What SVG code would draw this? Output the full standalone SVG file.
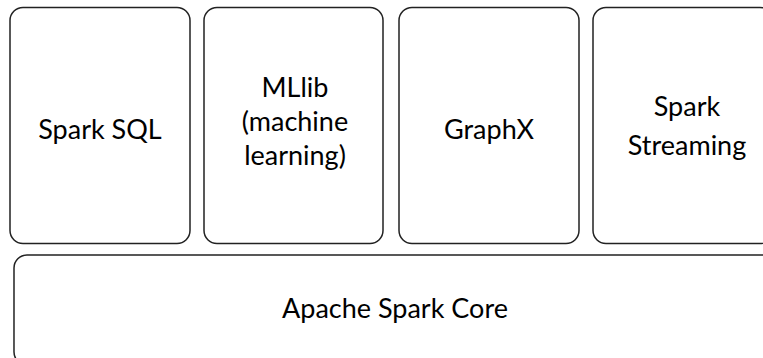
<svg xmlns="http://www.w3.org/2000/svg" width="763" height="358" viewBox="0 0 763 358">
<style>
.box{fill:#fff;stroke:#222;stroke-width:1.5}
.t{font-family:Lato,"Open Sans","Liberation Sans",sans-serif;font-size:27px;fill:#000;text-anchor:middle}
</style>
<rect width="763" height="358" fill="#fff"/>
<g id="spark-sql"><rect class="box" x="10" y="7.5" width="180" height="236" rx="13"/><text class="t" x="100" y="139">Spark SQL</text></g>
<g id="mllib"><rect class="box" x="204" y="7.5" width="179" height="236" rx="13"/><text class="t" x="295" y="97">MLlib</text><text class="t" x="295" y="131">(machine</text><text class="t" x="295" y="165">learning)</text></g>
<g id="graphx"><rect class="box" x="399" y="7.5" width="180" height="236" rx="13"/><text class="t" x="489" y="139">GraphX</text></g>
<g id="spark-streaming"><rect class="box" x="593" y="7.5" width="180" height="236" rx="13"/><text class="t" x="687" y="116">Spark</text><text class="t" x="687" y="155">Streaming</text></g>
<g id="apache-spark-core"><rect class="box" x="14" y="255" width="770" height="110" rx="13"/><text class="t" x="395" y="318">Apache Spark Core</text></g>
<g id="connectors"></g>
</svg>
